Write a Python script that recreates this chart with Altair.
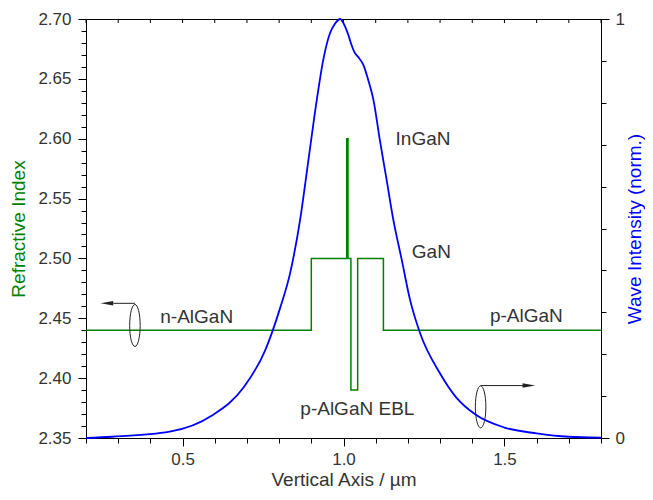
import altair as alt
import pandas as pd

# ---- data ----
# refractive index profile (step profile), x in µm
ri_x = [0.20, 0.900, 0.900, 1.010, 1.010, 1.014, 1.014, 1.023, 1.023, 1.044, 1.044, 1.124, 1.124, 1.80]
ri_y = [2.44, 2.44, 2.50, 2.50, 2.60, 2.60, 2.50, 2.50, 2.39, 2.39, 2.50, 2.50, 2.44, 2.44]

# normalized wave intensity
wave_x = [0.20, 0.28, 0.46, 0.59, 0.69, 0.756, 0.803, 0.834, 0.865, 0.891, 0.917, 0.937,
          0.958, 0.973, 0.99, 1.000, 1.015, 1.025, 1.033, 1.046, 1.062, 1.077, 1.093,
          1.113, 1.134, 1.155, 1.181, 1.207, 1.238, 1.30, 1.35, 1.41, 1.50, 1.60, 1.70, 1.80]
wave_y = [0.000, 0.003, 0.015, 0.053, 0.121, 0.208, 0.310, 0.393, 0.520, 0.663, 0.807, 0.902,
          0.966, 0.988, 1.000, 0.990, 0.962, 0.938, 0.922, 0.909, 0.890, 0.854, 0.807,
          0.711, 0.616, 0.520, 0.425, 0.329, 0.250, 0.154, 0.097, 0.056, 0.025, 0.011, 0.003, 0.001]

# layer labels
label_text = ["InGaN", "GaN", "n-AlGaN", "p-AlGaN", "p-AlGaN EBL"]
label_x = [1.247, 1.273, 0.544, 1.568, 1.043]
label_y = [2.600, 2.505, 2.451, 2.452, 2.374]

# axis-indicator annotations (ellipse + arrow), in refractive-index units
ell_x = [0.352, 1.426]
ell_y = [2.444, 2.376]
arrow_x1 = [0.352, 1.426]
arrow_x2 = [0.285, 1.559]
arrow_y = [2.4625, 2.3938]
head_x = [0.265, 1.576]
head_dir = ["left", "right"]

x_ticks = [round(0.2 + 0.1 * i, 1) for i in range(17)]
y_ticks = [round(2.35 + 0.01 * i, 2) for i in range(36)]
w_ticks = [round(0.1 * i, 1) for i in range(11)]

FONT = "Liberation Sans"
GREEN = "#008000"
BLUE = "#0000ff"
TXT = "#333333"

ri_df = pd.DataFrame({"x": ri_x, "y": ri_y, "i": range(len(ri_x))})
wave_df = pd.DataFrame({"x": wave_x, "w": wave_y, "i": range(len(wave_x))})
lab_df = pd.DataFrame({"x": label_x, "y": label_y, "t": label_text})
ell_df = pd.DataFrame({"x": ell_x, "y": ell_y})
arr_df = pd.DataFrame({"x": arrow_x1, "x2": arrow_x2, "y": arrow_y})
head_df = pd.DataFrame({"x": head_x, "y": arrow_y, "d": head_dir})
top_df = pd.DataFrame({"x": x_ticks})

xmaj = "abs(datum.value*2 - round(datum.value*2)) < 0.001"
ymaj = "abs(datum.value*20 - round(datum.value*20)) < 0.001"
wmaj = "datum.value < 0.001 || datum.value > 0.999"

xenc = alt.X(
    "x:Q",
    scale=alt.Scale(domain=[0.2, 1.8], nice=False, zero=False),
    axis=alt.Axis(
        values=x_ticks,
        labelExpr=f"({xmaj}) ? format(datum.value, '.1f') : ''",
        tickSize={"condition": {"test": xmaj, "value": 8}, "value": 5},
        labelPadding=5,
        labelOverlap=False,
        labelFlush=False,
        title="Vertical Axis / µm",
        titlePadding=3,
    ),
)

yenc = alt.Y(
    "y:Q",
    scale=alt.Scale(domain=[2.35, 2.70], nice=False, zero=False),
    axis=alt.Axis(
        orient="left",
        values=y_ticks,
        labelExpr=f"({ymaj}) ? format(datum.value, '.2f') : ''",
        tickSize={"condition": {"test": ymaj, "value": 8}, "value": 5},
        labelPadding=7,
        labelOverlap=False,
        title="Refractive Index",
        titleColor=GREEN,
        titlePadding=9,
    ),
)

green = alt.Chart(ri_df).mark_line(color=GREEN, strokeWidth=1.5, interpolate="linear").encode(
    x=xenc, y=yenc, order="i:Q"
)

texts = alt.Chart(lab_df).mark_text(font=FONT, fontSize=19, color=TXT).encode(
    x=xenc, y=yenc, text="t:N"
)

ellipses = alt.Chart(ell_df).mark_point(
    shape="M0,-1A0.25,1,0,1,1,0,1A0.25,1,0,1,1,0,-1Z",
    size=1764, filled=False, color="#222222", strokeWidth=1, opacity=1,
).encode(x=xenc, y=yenc)

arrows = alt.Chart(arr_df).mark_rule(color="#222222", strokeWidth=1).encode(
    x=xenc, x2="x2:Q", y=yenc
)

heads = alt.Chart(head_df).mark_point(filled=True, color="#222222", size=160, opacity=1).encode(
    x=xenc,
    y=yenc,
    shape=alt.Shape(
        "d:N",
        scale=alt.Scale(domain=["left", "right"],
                        range=["M-1,0L1,-0.35L1,0.35Z", "M1,0L-1,-0.35L-1,0.35Z"]),
        legend=None,
    ),
)

top_ticks = alt.Chart(top_df).mark_rule(color="black", strokeWidth=1).encode(
    x=xenc, y=alt.value(0), y2=alt.value(4)
)

left_group = alt.layer(green, texts, ellipses, arrows, heads, top_ticks)

blue = alt.Chart(wave_df).mark_line(color=BLUE, strokeWidth=1.8, interpolate="monotone").encode(
    x=xenc,
    y=alt.Y(
        "w:Q",
        scale=alt.Scale(domain=[0, 1], nice=False, zero=False),
        axis=alt.Axis(
            orient="right",
            values=w_ticks,
            labelExpr=f"({wmaj}) ? format(datum.value, 'd') : ''",
            tickSize={"condition": {"test": wmaj, "value": 8}, "value": 5},
            labelPadding=6,
            labelOverlap=False,
            title="Wave Intensity (norm.)",
            titleColor=BLUE,
            titleAngle=270,
            titleBaseline="top",
            titlePadding=1,
        ),
    ),
    order="i:Q",
)

chart = (
    alt.layer(left_group, blue)
    .resolve_scale(y="independent")
    .properties(
        width=515,
        height=419,
        padding={"left": 78, "top": 11, "right": 44, "bottom": 52},
        autosize=alt.AutoSizeParams(type="none"),
        background="white",
    )
    .configure_view(stroke="black", strokeWidth=1)
    .configure_axis(
        labelFont=FONT,
        labelFontSize=17,
        labelColor=TXT,
        titleFont=FONT,
        titleFontSize=19,
        titleFontWeight="normal",
        titleColor=TXT,
        domainColor="black",
        tickColor="black",
        domainWidth=1,
        tickWidth=1,
        grid=False,
    )
)

chart.save("out.html", embed_options={"renderer": "svg", "actions": False})
